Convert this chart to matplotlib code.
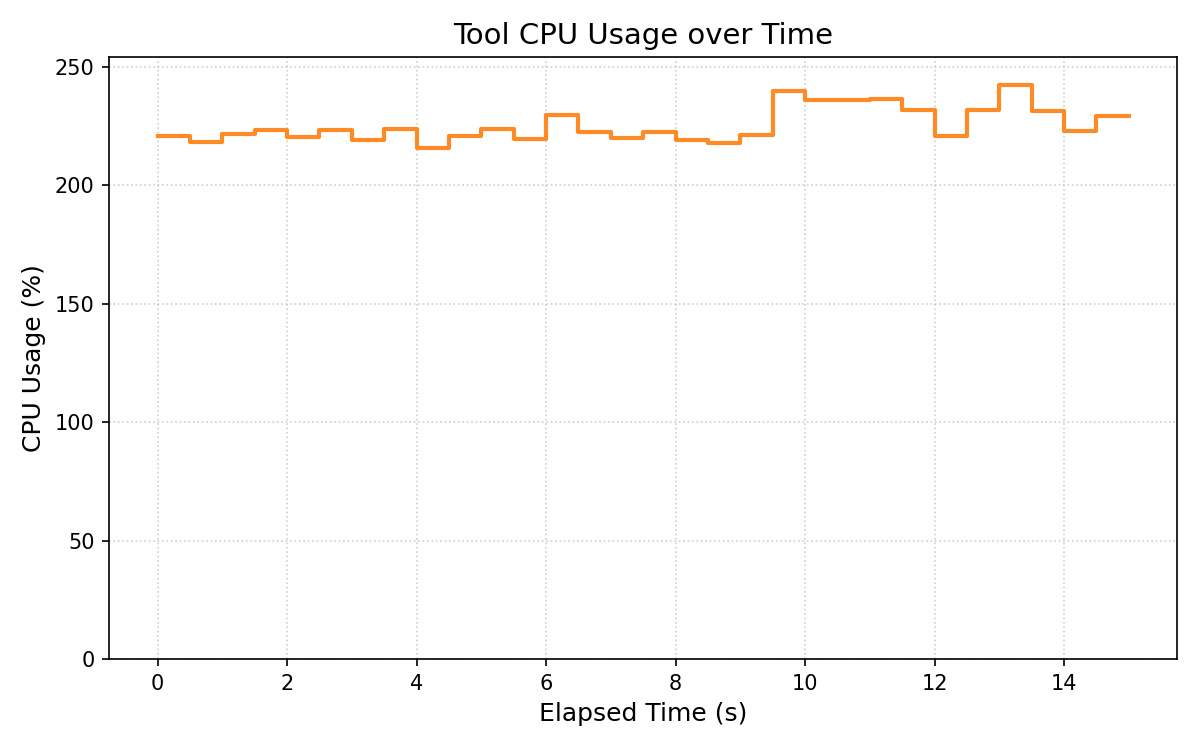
import numpy as np
import matplotlib
matplotlib.use("Agg")
import matplotlib.pyplot as plt

times = [0.0, 0.5, 1.0, 1.5, 2.0, 2.5, 3.0, 3.5, 4.0, 4.5, 5.0, 5.5, 6.0, 6.5, 7.0, 7.5,
         8.0, 8.5, 9.0, 9.5, 10.0, 10.5, 11.0, 11.5, 12.0, 12.5, 13.0, 13.5, 14.0, 14.5, 15.0]
cpu = [221.0, 218.2, 221.5, 223.2, 220.3, 223.2, 219.0, 223.8, 215.6, 220.7, 223.8, 219.4,
       229.6, 222.5, 219.8, 222.6, 219.0, 217.7, 221.1, 240.0, 236.2, 236.2, 236.6, 231.7,
       220.7, 231.6, 242.2, 231.2, 222.8, 229.1, 229.1]

fig, ax = plt.subplots(figsize=(8, 5), dpi=150)
ax.step(times, cpu, where="post", color="tab:orange", alpha=0.9, linewidth=2)
ax.set_ylim(0, max(cpu) * 1.05)
ax.set_title("Tool CPU Usage over Time", fontsize=14)
ax.set_xlabel("Elapsed Time (s)", fontsize=12)
ax.set_ylabel("CPU Usage (%)", fontsize=12)
ax.grid(True, linestyle=":", alpha=0.6)
fig.subplots_adjust(left=0.0908, right=0.9812, top=0.9244, bottom=0.1213)
fig.savefig("out.png")
